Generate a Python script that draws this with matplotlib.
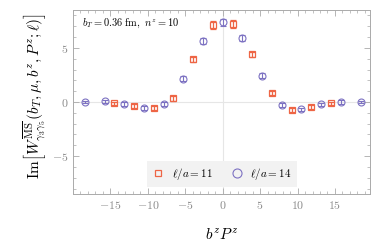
import matplotlib
matplotlib.use('Agg')
import matplotlib.pyplot as plt
from matplotlib.ticker import MultipleLocator
from matplotlib.lines import Line2D

# l/a = 11 (squares)
x11 = [-14.47, -11.84, -9.21, -6.58, -3.95, -1.32, 1.32, 3.95, 6.58, 9.21, 11.84, 14.47]
y11 = [-0.12, -0.40, -0.59, 0.34, 3.95, 7.12, 7.20, 4.41, 0.86, -0.74, -0.43, -0.12]
e11 = [0.15, 0.18, 0.18, 0.2, 0.22, 0.35, 0.35, 0.22, 0.2, 0.18, 0.18, 0.15]

# l/a = 14 (circles)
x14 = [-18.41, -15.78, -13.15, -10.52, -7.89, -5.26, -2.63, 0.0, 2.63, 5.26, 7.89, 10.52, 13.15, 15.78, 18.41]
y14 = [0.0, 0.05, -0.19, -0.56, -0.19, 2.16, 5.64, 7.37, 5.92, 2.44, -0.25, -0.68, -0.20, 0.0, 0.0]
e14 = [0.12, 0.15, 0.15, 0.15, 0.18, 0.2, 0.3, 0.35, 0.3, 0.2, 0.18, 0.15, 0.15, 0.15, 0.12]

c11 = '#ee6545'
c14 = '#7d72c2'
gray = '#8a8a8a'

plt.rcParams['mathtext.fontset'] = 'cm'
plt.rcParams['font.family'] = 'serif'
plt.rcParams['font.serif'] = ['DejaVu Serif']

fig = plt.figure(figsize=(3.82, 2.43), dpi=100)
ax = fig.add_axes([0.191, 0.2016, 0.778, 0.757])

ax.axhline(0, color='#e6e6e6', lw=0.8, zorder=0)
ax.axvline(0, color='#e6e6e6', lw=0.8, zorder=0)

ax.errorbar(x11, y11, yerr=e11, fmt='s', ms=4.2, mfc='none', mec=c11, mew=0.9,
            ecolor=c11, elinewidth=0.9, capsize=2.2, capthick=0.9)
ax.errorbar(x14, y14, yerr=e14, fmt='o', ms=5, mfc='none', mec=c14, mew=0.8,
            ecolor=c14, elinewidth=0.8, capsize=2.2, capthick=0.8)

ax.set_xlim(-20, 19.7)
ax.set_ylim(-8.5, 8.5)
ax.xaxis.set_minor_locator(MultipleLocator(1))
ax.yaxis.set_minor_locator(MultipleLocator(1))
ax.tick_params(which='both', direction='in', top=True, right=True, color='#aaaaaa',
               labelcolor=gray, labelsize=8.5)
ax.tick_params(which='major', length=4, width=0.6)
ax.tick_params(which='minor', length=2, width=0.5)
ax.set_xticks([-15, -10, -5, 0, 5, 10, 15])
ax.set_xticklabels([r'$-15$', r'$-10$', r'$-5$', r'$0$', r'$5$', r'$10$', r'$15$'])
ax.set_yticks([-5, 0, 5])
ax.set_yticklabels([r'$-5$', r'$0$', r'$5$'])
for s in ax.spines.values():
    s.set_color('#aaaaaa')
    s.set_linewidth(0.7)

ax.set_xlabel(r'$b^z P^z$', fontsize=11, labelpad=11)
ax.set_ylabel(r'$\mathrm{Im}\left[W^{\overline{\mathrm{MS}}}_{\gamma_3\gamma_5}(b_T,\mu,b^z,P^z;\ell)\right]$',
              fontsize=11)
ax.yaxis.set_label_coords(-0.085, 0.53)

ax.text(0.03, 0.93, r'$b_T=0.36\ \mathrm{fm},\ n^z=10$', transform=ax.transAxes,
        fontsize=7.5, va='center', ha='left')

handles = [
    Line2D([], [], ls='none', marker='s', ms=4.2, mfc='none', mec=c11, mew=0.9),
    Line2D([], [], ls='none', marker='o', ms=6.5, mfc='none', mec=c14, mew=0.8),
]
ax.legend(handles, [r'$\ell/a=11$', r'$\ell/a=14$'], loc='lower center',
          bbox_to_anchor=(0.5, 0.038), borderaxespad=0, ncol=2, fontsize=8,
          frameon=True, fancybox=False, facecolor='#f2f2f2', edgecolor='none',
          framealpha=1, columnspacing=1.6, handletextpad=0.6, handlelength=1.2,
          borderpad=0.45)

fig.savefig('out.png', dpi=100)
